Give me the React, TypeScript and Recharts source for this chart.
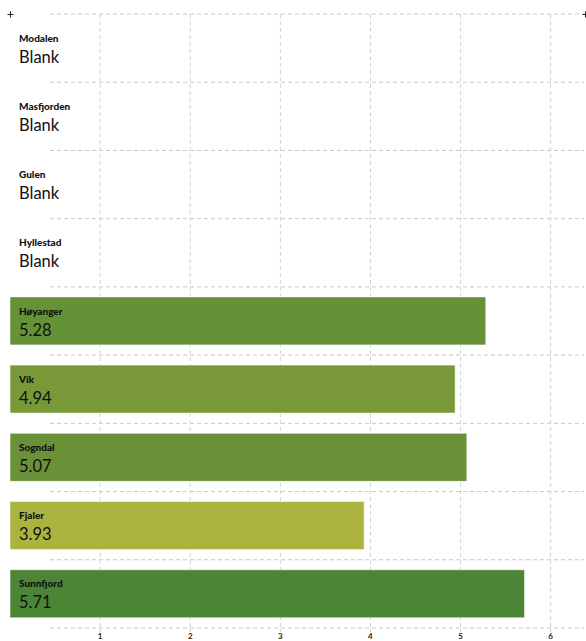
import { BarChart, Bar, XAxis, YAxis, CartesianGrid, Cell } from "recharts";

const areas = ["Modalen", "Masfjorden", "Gulen", "Hyllestad", "Høyanger", "Vik", "Sogndal", "Fjaler", "Sunnfjord"];
const scores: (number | null)[] = [null, null, null, null, 5.28, 4.94, 5.07, 3.93, 5.71];
const barColors = ["#5f8c36", "#5f8c36", "#5f8c36", "#5f8c36", "#659137", "#799939", "#6a9038", "#aab43e", "#4b8535"];
const xTicks = [1, 2, 3, 4, 5, 6];

const data = areas.map((name, i) => ({ name, value: scores[i] }));

const FONT = "Lato, 'Noto Sans', sans-serif";

// name + value drawn as y-axis ticks so blank rows get labels too
function RowTick(props: any) {
  const { y, payload } = props;
  const i = areas.indexOf(payload.value);
  const v = scores[i];
  const left = 19;
  return (
    <g>
      <text x={left} y={y - 6.5} fontSize={10} fontWeight={900} fill="#111" fontFamily={FONT}>
        {payload.value}
      </text>
      <text x={left} y={y + 14.5} fontSize={16.5} fill="#111" fontFamily={FONT}>
        {v == null ? "Blank" : v.toFixed(2)}
      </text>
    </g>
  );
}

function Cross({ left }: { left: number }) {
  return (
    <svg width={7} height={7} style={{ position: "absolute", left: left - 3.5, top: 10.5 }}>
      <line x1={0.5} x2={6.5} y1={3.5} y2={3.5} stroke="#222" strokeWidth={1} />
      <line x1={3.5} x2={3.5} y1={0.5} y2={6.5} stroke="#222" strokeWidth={1} />
    </svg>
  );
}

export default function App() {
  return (
    <div style={{ position: "absolute", left: 0, top: 0, width: 586, height: 641, background: "#fff" }}>
      <BarChart
        width={586}
        height={641}
        data={data}
        layout="vertical"
        margin={{ top: 14, right: 2, bottom: 0, left: 9 }}
        barSize={48}
      >
        <CartesianGrid
          vertical={false}
          horizontalCoordinatesGenerator={({ offset }: any) =>
            areas.concat([""]).map((_, i) => offset.top + (i * offset.height) / areas.length)
          }
          horizontal={(p: any) => (
            <line key={p.key} x1={50} x2={p.x2} y1={p.y1} y2={p.y2} stroke="#c8c8c8" strokeDasharray="4 3" />
          )}
        />
        <XAxis
          type="number"
          domain={[0, 6.37]}
          ticks={xTicks}
          axisLine={false}
          tickLine={{ stroke: "#c8c8c8", strokeDasharray: "3 3" }}
          tickSize={4}
          tickMargin={1}
          height={13}
          tick={{ fontSize: 8, fontWeight: 700, fill: "#222", fontFamily: FONT }}
        />
        <Bar dataKey="value" isAnimationActive={false} stroke="rgba(255,255,255,0.55)" strokeWidth={1}>
          {data.map((d, i) => (
            <Cell key={d.name} fill={barColors[i]} />
          ))}
        </Bar>
        <CartesianGrid
          horizontal={false}
          stroke="#d2d2d2"
          strokeDasharray="4 3"
          verticalCoordinatesGenerator={({ offset }: any) =>
            xTicks.map((t) => offset.left + (t / 6.37) * offset.width)
          }
        />
        <YAxis
          type="category"
          dataKey="name"
          width={1}
          axisLine={false}
          tickLine={false}
          tickSize={0}
          tickMargin={0}
          interval={0}
          tick={<RowTick />}
        />
      </BarChart>
      <Cross left={10} />
      <Cross left={585} />
    </div>
  );
}
